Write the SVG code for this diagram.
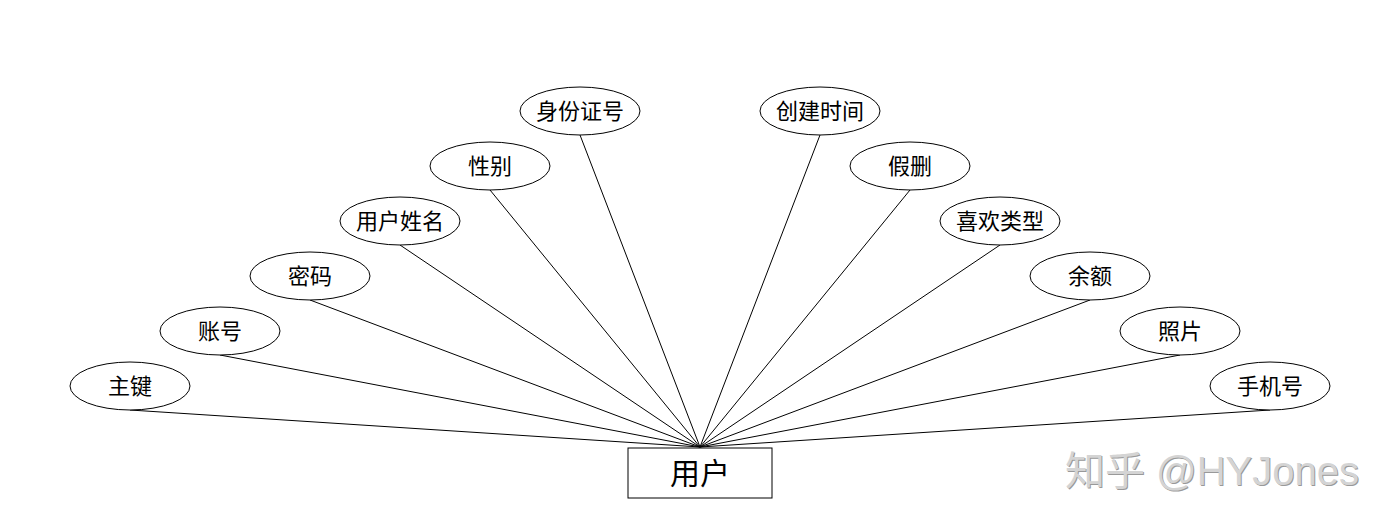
<svg xmlns="http://www.w3.org/2000/svg" width="1400" height="528" viewBox="0 0 1400 528">
<style>
.e{fill:#fff;stroke:#000;stroke-width:1}
.t{font-family:"Noto Sans CJK SC","Noto Sans",sans-serif;font-size:22px;fill:#000;text-anchor:middle;dominant-baseline:central}
.c line{stroke:#000;stroke-width:1}
.wm{font-family:"Liberation Sans","Noto Sans CJK SC",sans-serif;font-size:40px}
</style>
<rect width="1400" height="528" fill="#fff"/>
<g class="c" id="connectors">
<line x1="130" y1="410" x2="700" y2="447"/>
<line x1="220" y1="355" x2="700" y2="447"/>
<line x1="310" y1="300" x2="700" y2="447"/>
<line x1="400" y1="245" x2="700" y2="447"/>
<line x1="490" y1="190" x2="700" y2="447"/>
<line x1="580" y1="135" x2="700" y2="447"/>
<line x1="820" y1="135" x2="700" y2="447"/>
<line x1="910" y1="190" x2="700" y2="447"/>
<line x1="1000" y1="245" x2="700" y2="447"/>
<line x1="1090" y1="300" x2="700" y2="447"/>
<line x1="1180" y1="355" x2="700" y2="447"/>
<line x1="1270" y1="410" x2="700" y2="447"/>
</g>
<g id="n_user"><rect x="628" y="448" width="144" height="50" fill="#fff" stroke="#000"/><text class="t" x="700" y="471" style="font-size:30px">用户</text></g>
<g id="n1"><ellipse class="e" cx="130" cy="386" rx="60" ry="24"/><text class="t" x="130" y="384">主键</text></g>
<g id="n2"><ellipse class="e" cx="220" cy="331" rx="60" ry="24"/><text class="t" x="220" y="329">账号</text></g>
<g id="n3"><ellipse class="e" cx="310" cy="276" rx="60" ry="24"/><text class="t" x="310" y="274">密码</text></g>
<g id="n4"><ellipse class="e" cx="400" cy="221" rx="60" ry="24"/><text class="t" x="400" y="219">用户姓名</text></g>
<g id="n5"><ellipse class="e" cx="490" cy="166" rx="60" ry="24"/><text class="t" x="490" y="164">性别</text></g>
<g id="n6"><ellipse class="e" cx="580" cy="111" rx="60" ry="24"/><text class="t" x="580" y="109">身份证号</text></g>
<g id="n7"><ellipse class="e" cx="820" cy="111" rx="60" ry="24"/><text class="t" x="820" y="109">创建时间</text></g>
<g id="n8"><ellipse class="e" cx="910" cy="166" rx="60" ry="24"/><text class="t" x="910" y="164">假删</text></g>
<g id="n9"><ellipse class="e" cx="1000" cy="221" rx="60" ry="24"/><text class="t" x="1000" y="219">喜欢类型</text></g>
<g id="n10"><ellipse class="e" cx="1090" cy="276" rx="60" ry="24"/><text class="t" x="1090" y="274">余额</text></g>
<g id="n11"><ellipse class="e" cx="1180" cy="331" rx="60" ry="24"/><text class="t" x="1180" y="329">照片</text></g>
<g id="n12"><ellipse class="e" cx="1270" cy="386" rx="60" ry="24"/><text class="t" x="1270" y="384">手机号</text></g>
<g id="watermark">
<text class="wm" x="1066" y="486" fill="#999">知乎 @HYJones</text>
<text class="wm" x="1065" y="485" fill="#d4d4d4">知乎 @HYJones</text>
</g>
</svg>
